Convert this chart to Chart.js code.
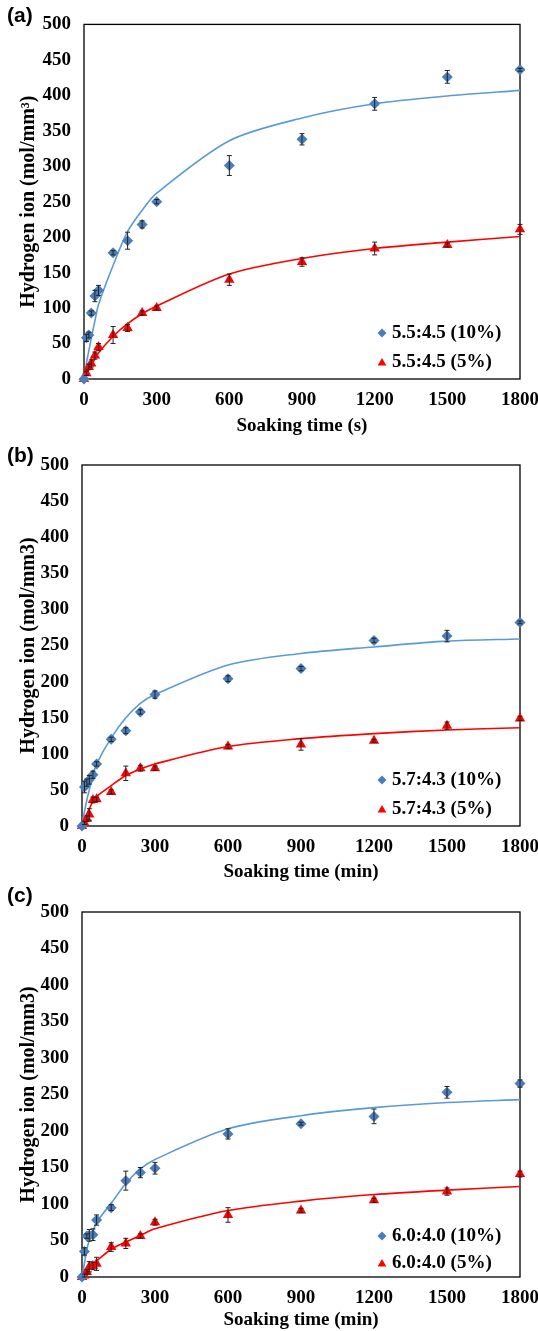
<!DOCTYPE html>
<html>
<head>
<meta charset="utf-8">
<title>Hydrogen ion release vs soaking time</title>
<script src="https://cdn.jsdelivr.net/npm/chart.js@4.4.1/dist/chart.umd.min.js"></script>
<style>
  html, body { margin: 0; padding: 0; background: #fff; width: 538px; height: 1331px; overflow: hidden; }
  .panel { position: absolute; left: 0; width: 538px; }
  .tag { position: absolute; left: 7px; font: bold 21px "Liberation Sans", Arial, sans-serif; color: #000; }
</style>
</head>
<body>
<div class="panel" id="pa" style="top:0;height:437px"><canvas id="chartA"></canvas></div>
<div class="panel" id="pb" style="top:437px;height:446px"><canvas id="chartB"></canvas></div>
<div class="panel" id="pc" style="top:883px;height:448px"><canvas id="chartC"></canvas></div>
<div class="tag" style="top:3px">(a)</div>
<div class="tag" style="top:443px">(b)</div>
<div class="tag" style="top:883px">(c)</div>
<script>
// ——— values (x = soaking time) ———
const SOAK_TIME = [0, 10, 20, 30, 45, 60, 120, 180, 240, 300, 600, 900, 1200, 1500, 1800];
const X_TICKS = [0, 300, 600, 900, 1200, 1500, 1800];
const Y_TICKS = [0, 50, 100, 150, 200, 250, 300, 350, 400, 450, 500];

// (a) 5.5:4.5
const A_HI = [0, 58, 62, 93, 117, 125, 178, 195, 218, 250, 301, 338, 388, 426, 436];
const A_HI_ERR = [0, 5, 4, 3, 8, 7, 3, 12, 5, 3, 14, 8, 9, 9, 2];
const A_HI_FIT = [0, 22, 40, 57, 82, 105, 160, 208, 238, 262, 336, 368, 388, 399, 407];
const A_LO = [0, 8, 17, 22, 33, 45, 62, 72, 93, 100, 140, 165, 184, 189, 211];
const A_LO_ERR = [0, 3, 4, 5, 5, 5, 12, 5, 3, 3, 8, 6, 9, 3, 7];
const A_LO_FIT = [0, 7, 14, 20, 28, 37, 60, 78, 92, 103, 148, 170, 184, 193, 201];

// (b) 5.7:4.3
const B_HI = [0, 54, 60, 64, 71, 86, 120, 132, 158, 182, 204, 218, 257, 263, 282];
const B_HI_ERR = [0, 8, 5, 6, 5, 3, 3, 4, 3, 5, 4, 3, 3, 8, 2];
const B_HI_FIT = [0, 20, 36, 50, 70, 86, 122, 150, 170, 182, 223, 239, 248, 256, 259];
const B_LO = [0, 4, 10, 16, 36, 37, 47, 73, 80, 80, 110, 113, 118, 139, 149];
const B_LO_ERR = [0, 2, 4, 8, 4, 3, 3, 10, 4, 3, 3, 8, 2, 5, 3];
const B_LO_FIT = [0, 9, 17, 24, 34, 41, 56, 70, 79, 86, 110, 121, 128, 133, 136];

// (c) 6.0:4.0
const C_HI = [0, 35, 56, 57, 58, 78, 95, 132, 143, 149, 196, 210, 220, 253, 265];
const C_HI_ERR = [0, 5, 3, 8, 8, 7, 4, 13, 7, 8, 7, 2, 10, 8, 5];
const C_HI_FIT = [0, 19, 38, 50, 62, 75, 101, 128, 148, 161, 203, 221, 232, 239, 243];
const C_LO = [0, 2, 7, 14, 15, 18, 41, 46, 56, 75, 85, 91, 105, 117, 141];
const C_LO_ERR = [0, 2, 3, 7, 5, 9, 6, 7, 3, 4, 10, 3, 3, 5, 4];
const C_LO_FIT = [0, 5, 10, 14, 18, 22, 38, 48, 57, 66, 91, 104, 113, 119, 124];

const BLUE_MARK = "#4A7EBB";
const BLUE_LINE = "#5B9BD5";
const RED = "#FF0000";
const SERIF = '"Liberation Serif", "Times New Roman", serif';

function pts(values) {
  return SOAK_TIME.map((t, i) => ({ x: t, y: values[i] }));
}

function diamond(ctx, x, y, r) {
  ctx.beginPath();
  ctx.moveTo(x, y - r); ctx.lineTo(x + r, y); ctx.lineTo(x, y + r); ctx.lineTo(x - r, y);
  ctx.closePath(); ctx.fill();
}
function triangle(ctx, x, y, r) {
  ctx.beginPath();
  ctx.moveTo(x, y - r); ctx.lineTo(x + r * 0.87, y + r * 0.5); ctx.lineTo(x - r * 0.87, y + r * 0.5);
  ctx.closePath(); ctx.fill();
}

// plot frame, drawn under the marks
const frame = {
  id: "frame",
  beforeDatasetsDraw(chart) {
    const { ctx, chartArea: a } = chart;
    ctx.save();
    ctx.strokeStyle = "#000";
    ctx.lineWidth = 1.3;
    ctx.strokeRect(a.left, a.top, a.right - a.left, a.bottom - a.top);
    ctx.restore();
  }
};

// vertical error bars with small caps
const errorBars = {
  id: "errorBars",
  afterDatasetsDraw(chart) {
    const { ctx, scales: { x, y } } = chart;
    ctx.save();
    ctx.strokeStyle = "#222";
    ctx.lineWidth = 1;
    chart.data.datasets.forEach(ds => {
      if (!ds.errors) return;
      ds.data.forEach((p, i) => {
        const e = ds.errors[i];
        if (!e) return;
        const px = x.getPixelForValue(p.x);
        const top = y.getPixelForValue(p.y + e);
        const bot = y.getPixelForValue(p.y - e);
        ctx.beginPath();
        ctx.moveTo(px, top); ctx.lineTo(px, bot);
        ctx.moveTo(px - 2.5, top); ctx.lineTo(px + 2.5, top);
        ctx.moveTo(px - 2.5, bot); ctx.lineTo(px + 2.5, bot);
        ctx.stroke();
      });
    });
    ctx.restore();
  }
};

// legend in the lower right corner of the plot
const innerLegend = {
  id: "innerLegend",
  afterDraw(chart, args, opts) {
    const { ctx, chartArea: a } = chart;
    ctx.save();
    ctx.font = "bold 19px " + SERIF;
    ctx.textBaseline = "middle";
    chart.data.datasets.slice(0, 2).forEach((ds, k) => {
      const yy = a.bottom - opts.rows[k];
      const mx = a.right - 138;
      ctx.fillStyle = ds.backgroundColor;
      if (ds.pointStyle === "triangle") triangle(ctx, mx, yy + 1, 5);
      else diamond(ctx, mx, yy, 4.5);
      ctx.fillStyle = "#000";
      ctx.fillText(ds.label, mx + 10, yy);
    });
    ctx.restore();
  }
};

function makeChart(id, cfg) {
  const datasets = [
    {
      label: cfg.name + " (10%)", data: pts(cfg.hi), errors: cfg.hiErr,
      showLine: false, pointStyle: "rectRot", pointRadius: 5.5,
      backgroundColor: BLUE_MARK, borderColor: BLUE_MARK, borderWidth: 0, clip: false
    },
    {
      label: cfg.name + " (5%)", data: pts(cfg.lo), errors: cfg.loErr,
      showLine: false, pointStyle: "triangle", pointRadius: 6,
      backgroundColor: RED, borderColor: RED, borderWidth: 0, clip: false
    },
    {
      label: "fit 10%", data: pts(cfg.hiFit), showLine: true, pointRadius: 0,
      borderColor: BLUE_LINE, borderWidth: 1.6, tension: 0.3, fill: false
    },
    {
      label: "fit 5%", data: pts(cfg.loFit), showLine: true, pointRadius: 0,
      borderColor: RED, borderWidth: 1.6, tension: 0.3, fill: false
    }
  ];

  const tickFont = { family: SERIF, size: 19, weight: "bold" };

  return new Chart(document.getElementById(id), {
    type: "scatter",
    data: { datasets },
    plugins: [frame, errorBars, innerLegend],
    options: {
      responsive: true,
      maintainAspectRatio: false,
      animation: false,
      events: [],
      layout: { padding: { top: cfg.top, right: 18, left: 0, bottom: 0 } },
      plugins: {
        legend: { display: false },
        tooltip: { enabled: false },
        innerLegend: { rows: cfg.rows }
      },
      scales: {
        x: {
          type: "linear", min: 0, max: 1800,
          afterBuildTicks: s => { s.ticks = X_TICKS.map(v => ({ value: v })); },
          afterFit: s => {
            s.height = cfg.xHeight;
            // let the last label hang past the frame as in the original
            s.paddingLeft = 0;
            s.paddingRight = 0;
          },
          grid: { display: false, drawTicks: false },
          border: { display: false },
          ticks: { color: "#000", padding: 10, maxRotation: 0, font: tickFont, callback: v => String(v) },
          title: {
            display: true, text: cfg.xTitle, color: "#000",
            padding: { top: 0, bottom: 0 },
            font: { family: SERIF, size: 19, weight: "bold" }
          }
        },
        y: {
          type: "linear", min: 0, max: 500,
          afterBuildTicks: s => { s.ticks = Y_TICKS.map(v => ({ value: v })); },
          afterFit: s => { s.width = cfg.left; },
          grid: { display: false, drawTicks: false },
          border: { display: false },
          ticks: { color: "#000", padding: 13, font: tickFont, callback: v => String(v) },
          title: {
            display: true, text: cfg.yTitle, color: "#000",
            padding: { top: 17, bottom: 0 },
            font: { family: SERIF, size: 20, weight: "bold" }
          }
        }
      }
    }
  });
}

makeChart("chartA", {
  name: "5.5:4.5", hi: A_HI, hiErr: A_HI_ERR, hiFit: A_HI_FIT, lo: A_LO, loErr: A_LO_ERR, loFit: A_LO_FIT,
  top: 16, left: 84, xHeight: 58, rows: [46, 17],
  xTitle: "Soaking time (s)", yTitle: "Hydrogen ion (mol/mm\u00B3)"
});
makeChart("chartB", {
  name: "5.7:4.3", hi: B_HI, hiErr: B_HI_ERR, hiFit: B_HI_FIT, lo: B_LO, loErr: B_LO_ERR, loFit: B_LO_FIT,
  top: 28, left: 82, xHeight: 57, rows: [46, 17],
  xTitle: "Soaking time (min)", yTitle: "Hydrogen ion (mol/mm3)"
});
makeChart("chartC", {
  name: "6.0:4.0", hi: C_HI, hiErr: C_HI_ERR, hiFit: C_HI_FIT, lo: C_LO, loErr: C_LO_ERR, loFit: C_LO_FIT,
  top: 29, left: 82, xHeight: 54, rows: [41, 14],
  xTitle: "Soaking time (min)", yTitle: "Hydrogen ion (mol/mm3)"
});
</script>
</body>
</html>
